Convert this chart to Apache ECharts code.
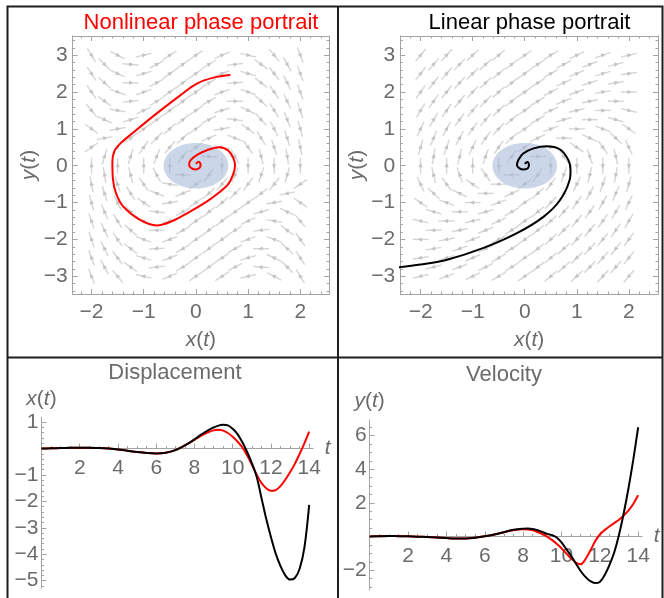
<!DOCTYPE html>
<html>
<head>
<meta charset="utf-8">
<script src="https://cdn.jsdelivr.net/npm/echarts@6/dist/echarts.min.js"></script>
<style>
html, body { margin: 0; padding: 0; background: #fff; }
#chart { width: 664px; height: 598px; }
</style>
</head>
<body>
<div id="chart"></div>
<script>
// time samples shared by both time plots
const tSteps = [0, 0.5, 1, 1.5, 2, 2.5, 3, 3.5, 4, 4.5, 5, 5.5, 6, 6.5, 7, 7.5, 8,
    8.25, 8.5, 8.75, 9, 9.25, 9.5, 9.75, 10, 10.25, 10.5, 10.75, 11, 11.25, 11.5, 11.75,
    12, 12.25, 12.5, 12.75, 13, 13.25, 13.5, 13.75, 14];
const xLinear = [0, 0.01, 0.02, 0.03, 0.035, 0.035, 0.02, 0, -0.03, -0.08, -0.13, -0.17, -0.19, -0.16, -0.06, 0.12, 0.35,
    0.48, 0.6, 0.71, 0.8, 0.87, 0.9, 0.88, 0.75, 0.55, 0.25, -0.12, -0.55, -1.06, -1.85, -2.65,
    -3.35, -3.98, -4.45, -4.8, -4.96, -4.9, -4.55, -3.75, -2.13];
const xNonlinear = [0, 0.01, 0.02, 0.03, 0.035, 0.035, 0.02, 0, -0.03, -0.08, -0.13, -0.17, -0.19, -0.16, -0.06, 0.12, 0.33,
    0.44, 0.55, 0.63, 0.69, 0.71, 0.68, 0.59, 0.45, 0.27, 0.05, -0.25, -0.6, -0.98, -1.3, -1.5,
    -1.6, -1.57, -1.42, -1.18, -0.9, -0.58, -0.2, 0.2, 0.64];
const yLinear = [0, 0.02, 0.03, 0.02, 0.01, -0.01, -0.03, -0.06, -0.09, -0.11, -0.11, -0.07, 0.01, 0.12, 0.26, 0.4, 0.47,
    0.48, 0.45, 0.38, 0.28, 0.16, 0.08, -0.06, -0.35, -0.75, -1.15, -1.6, -2.05, -2.4, -2.65, -2.77,
    -2.7, -2.3, -1.7, -0.95, 0.1, 1.4, 2.9, 4.6, 6.5];
const yNonlinear = [0, 0.02, 0.03, 0.02, 0.01, -0.01, -0.03, -0.06, -0.09, -0.11, -0.11, -0.07, 0.01, 0.12, 0.26, 0.38, 0.43,
    0.42, 0.37, 0.27, 0.15, 0, -0.2, -0.43, -0.7, -1.0, -1.3, -1.55, -1.65, -1.35, -0.85, -0.3,
    0.12, 0.38, 0.6, 0.8, 1.0, 1.25, 1.55, 1.95, 2.45];

// trajectories
const nlPhaseX = [0, 0.05, 0.09, 0.07, 0, -0.08, -0.13, -0.1, 0.03, 0.21, 0.45, 0.62, 0.72, 0.75, 0.71, 0.62, 0.45, 0.2,
    -0.17, -0.45, -0.75, -1.07, -1.39, -1.53, -1.59, -1.6, -1.56, -1.45, -1.2, -0.75, -0.3, 0.02, 0.34, 0.66];
const nlPhaseY = [0.05, 0.11, 0.04, -0.06, -0.1, -0.07, 0.02, 0.15, 0.3, 0.42, 0.5, 0.41, 0.2, 0, -0.25, -0.5, -0.72, -0.98,
    -1.29, -1.5, -1.62, -1.47, -1.11, -0.75, -0.35, 0.1, 0.4, 0.6, 0.9, 1.42, 1.91, 2.23, 2.39, 2.46];
const linPhaseX = [0, 0.05, 0.08, 0.06, -0.02, -0.1, -0.15, -0.12, -0.03, 0.17, 0.42, 0.68, 0.84, 0.88, 0.86,
    0.68, 0.365, -0.15, -0.79, -1.49, -2.0, -2.45];
const linPhaseY = [0.05, 0.1, 0.03, -0.07, -0.1, -0.07, 0.02, 0.16, 0.33, 0.47, 0.53, 0.44, 0.15, -0.12, -0.4,
    -0.93, -1.38, -1.83, -2.23, -2.55, -2.68, -2.76];

// stream field: arrow direction on screen (degrees, 0 = right, 90 = up) on two staggered grids
const fieldCols = [-2, -1.5, -1, -0.5, 0, 0.5, 1, 1.5, 2];
const fieldRows = [3, 2.5, 2, 1.5, 1, 0.5, 0, -0.5, -1, -1.5, -2, -2.5, -3];
const fieldColsB = [-1.75, -1.25, -0.75, -0.25, 0.25, 0.75, 1.25, 1.75];
const fieldRowsB = [2.75, 2.25, 1.75, 1.25, 0.75, 0.25, -0.25, -0.75, -1.25, -1.75, -2.25, -2.75];
const nlFieldAngles = [
    [-59, -28, 13, 33, 35, 23, -13, -51, -69],
    [-57, -25, 16, 34, 35, 21, -16, -53, -70],
    [-55, -20, 20, 35, 35, 20, -20, -55, -71],
    [-50, -10, 25, 38, 35, 17, -25, -58, -72],
    [-35, 10, 35, 42, 35, 10, -35, -63, -74],
    [35, 51, 55, 51, 35, -10, -55, -72, -79],
    [90, 90, 90, 90, null, -90, -90, -90, -90],
    [101, 108, 125, 170, 215, 231, 235, 231, 215],
    [106, 117, 145, 190, 215, 222, 215, 190, 145],
    [108, 122, 155, 197, 215, 218, 205, 170, 130],
    [109, 125, 160, 200, 215, 215, 200, 160, 125],
    [110, 127, 164, 201, 215, 214, 196, 155, 123],
    [111, 129, 167, 203, 215, 213, 193, 152, 121]
];
const nlFieldAnglesB = [
    [-45, -4, 27, 36, 31, 7, -36, -62],
    [-42, 0, 29, 37, 30, 4, -38, -64],
    [-37, 6, 32, 38, 29, 0, -42, -65],
    [-25, 17, 36, 39, 28, -7, -48, -68],
    [11, 38, 46, 42, 23, -22, -58, -72],
    [74, 72, 68, 54, -3, -61, -76, -81],
    [99, 104, 119, 177, 234, 248, 252, 254],
    [108, 122, 158, 203, 222, 226, 218, 191],
    [112, 132, 173, 208, 219, 216, 197, 155],
    [115, 138, 180, 209, 218, 212, 186, 143],
    [116, 142, 184, 210, 217, 209, 180, 138],
    [118, 144, 187, 211, 216, 207, 176, 135]
];
const linFieldAngles = [
    [50, 47, 43, 40, 35, 31, 25, 20, 13],
    [52, 49, 45, 40, 35, 30, 23, 16, 8],
    [55, 51, 47, 42, 35, 28, 20, 10, 0],
    [59, 55, 50, 43, 35, 25, 13, 0, -13],
    [65, 61, 55, 47, 35, 20, 0, -20, -35],
    [74, 71, 65, 55, 35, 0, -35, -55, -65],
    [90, 90, 90, 90, null, -90, -90, -90, -90],
    [115, 125, 145, 180, 215, 235, 245, 251, 254],
    [145, 160, 180, 200, 215, 227, 235, 241, 245],
    [167, 180, 193, 205, 215, 223, 230, 235, 239],
    [180, 190, 200, 208, 215, 222, 227, 231, 235],
    [188, 196, 203, 210, 215, 220, 225, 229, 232],
    [193, 200, 205, 211, 215, 220, 223, 227, 230]
];
const linFieldAnglesB = [
    [49, 46, 42, 38, 33, 27, 21, 14],
    [52, 48, 43, 38, 32, 25, 18, 9],
    [55, 51, 45, 39, 31, 22, 11, 0],
    [60, 55, 49, 40, 30, 16, 0, -16],
    [67, 62, 55, 43, 25, 0, -25, -43],
    [80, 77, 71, 55, 0, -55, -71, -77],
    [103, 109, 125, 180, 235, 251, 257, 260],
    [137, 155, 180, 205, 223, 235, 242, 247],
    [164, 180, 196, 210, 220, 229, 235, 240],
    [180, 191, 202, 211, 219, 225, 231, 235],
    [189, 198, 205, 212, 218, 223, 228, 232],
    [194, 201, 207, 213, 218, 222, 226, 229]
];
const diskRadius = 0.62;

// tick labels
const phaseXTicks = [-2, -1, 0, 1, 2];
const phaseYTicks = [-3, -2, -1, 0, 1, 2, 3];
const dispXTicks = [2, 4, 6, 8, 10, 12, 14];
const dispYTicks = [-5, -4, -3, -2, -1, 1];
const velYTicks = [-2, 2, 4, 6];

const FONT = "'Liberation Sans', Arial, sans-serif";
const AXIS_GRAY = '#a3a3a3';
const LABEL_GRAY = '#6b6b6b';
const BORDER = '#1e1e1e';

function steps(from, to, step) {
    const out = [];
    for (let v = from; v <= to + 1e-9; v += step) out.push(+v.toFixed(3));
    return out;
}
const minus = v => String(v).replace('-', '\u2212');

function nameStyle() {
    return {
        color: LABEL_GRAY, fontSize: 21, fontFamily: FONT,
        rich: { i: { fontStyle: 'italic', fontSize: 21, color: LABEL_GRAY, fontFamily: FONT } }
    };
}

const xAxes = [], yAxes = [];

// pushes a major axis (line, ticks, labels) and a minor-tick twin, returns the major's index
function addAxis(list, o) {
    const tickStyle = { color: AXIS_GRAY, width: 1 };
    const major = {
        type: 'value', gridIndex: o.grid, position: o.pos, offset: o.offset || 0, min: o.min, max: o.max,
        splitLine: { show: false },
        axisLine: { show: true, onZero: false, lineStyle: { color: AXIS_GRAY, width: 1 } },
        axisTick: { show: true, inside: true, length: 5, customValues: o.ticks, lineStyle: tickStyle },
        axisLabel: o.labels
            ? { show: true, customValues: o.ticks, formatter: minus, color: LABEL_GRAY, fontSize: 21, fontFamily: FONT, margin: o.margin, hideOverlap: false }
            : { show: false }
    };
    if (o.name) Object.assign(major, o.name);
    const minor = {
        type: 'value', gridIndex: o.grid, position: o.pos, offset: o.offset || 0, min: o.min, max: o.max,
        splitLine: { show: false },
        axisLine: { show: false, onZero: false },
        axisTick: { show: true, inside: true, length: 2.5, customValues: o.minors, lineStyle: tickStyle },
        axisLabel: { show: false }
    };
    list.push(major, minor);
    return list.length - 2;
}

const grids = [
    { left: 72.7, top: 36, width: 256.3, height: 258 },
    { left: 400.3, top: 36, width: 257.7, height: 258 },
    { left: 41.5, top: 417.7, width: 271.5, height: 170.3 },
    { left: 369.7, top: 420, width: 272.3, height: 170 }
].map(g => Object.assign({ containLabel: false, outerBoundsMode: 'none' }, g));

// framed phase panels
const phaseRanges = [[-2.36, 2.55], [-2.39, 2.56]];
const phaseAxes = phaseRanges.map((xr, g) => {
    const xMinor = steps(-2.2, 2.4, 0.2), yMinor = steps(-3.4, 3.4, 0.2);
    const xi = addAxis(xAxes, {
        grid: g, pos: 'bottom', min: xr[0], max: xr[1], ticks: phaseXTicks, minors: xMinor, labels: true, margin: 8,
        name: { name: '{i|x}({i|t})', nameLocation: 'middle', nameGap: 36, nameTextStyle: nameStyle() }
    });
    addAxis(xAxes, { grid: g, pos: 'top', min: xr[0], max: xr[1], ticks: phaseXTicks, minors: xMinor });
    const yi = addAxis(yAxes, {
        grid: g, pos: 'left', min: -3.48, max: 3.52, ticks: phaseYTicks, minors: yMinor, labels: true, margin: 5,
        name: { name: '{i|y}({i|t})', nameLocation: 'middle', nameRotate: 90, nameGap: 33, nameTextStyle: nameStyle() }
    });
    addAxis(yAxes, { grid: g, pos: 'right', min: -3.48, max: 3.52, ticks: phaseYTicks, minors: yMinor });
    return { xi, yi };
});

// time panels: the t axis is lifted from the grid bottom to the y = 0 level
const timeSpecs = [
    { grid: 2, yMin: -5.28, yMax: 1.17, yTicks: dispYTicks, yMinor: steps(-5.2, 1.0, 0.2), name: '{i|x}({i|t})' },
    { grid: 3, yMin: -3.18, yMax: 6.93, yTicks: velYTicks, yMinor: steps(-3, 6.5, 0.5), name: '{i|y}({i|t})' }
];
const timeAxes = timeSpecs.map(s => {
    const h = grids[s.grid].height;
    const lift = h * (0 - s.yMin) / (s.yMax - s.yMin);
    const yi = addAxis(yAxes, {
        grid: s.grid, pos: 'left', min: s.yMin, max: s.yMax, ticks: s.yTicks, minors: s.yMinor, labels: true, margin: 3,
        name: { name: s.name, nameLocation: 'end', nameGap: 8, nameTextStyle: nameStyle() }
    });
    const xi = addAxis(xAxes, {
        grid: s.grid, pos: 'bottom', offset: -lift, min: 0, max: 14.2, ticks: dispXTicks, minors: steps(0.5, 14, 0.5), labels: true, margin: 9,
        name: { name: '{i|t}', nameLocation: 'end', nameGap: 8, nameTextStyle: nameStyle() }
    });
    return { xi, yi };
});

function fieldData(rows, cols, angles) {
    const out = [];
    rows.forEach((y, r) => cols.forEach((x, c) => {
        if (angles[r][c] !== null) out.push([x, y, angles[r][c]]);
    }));
    return out;
}

function renderArrow(params, api) {
    const p = api.coord([api.value(0), api.value(1)]);
    const a = api.value(2) * Math.PI / 180;
    const dx = Math.cos(a), dy = -Math.sin(a);
    const L = 8, h = 4.5, w = 2.2;
    const x1 = p[0] - dx * L, y1 = p[1] - dy * L;
    const x2 = p[0] + dx * L, y2 = p[1] + dy * L;
    const hx = p[0] + dx * 3, hy = p[1] + dy * 3;
    const bx = hx - dx * h, by = hy - dy * h;
    return {
        type: 'group',
        children: [
            { type: 'line', shape: { x1, y1, x2, y2 }, style: { stroke: '#d6d6d6', lineWidth: 1.4 } },
            { type: 'polygon', shape: { points: [[hx, hy], [bx - dy * w, by + dx * w], [bx + dy * w, by - dx * w]] }, style: { fill: '#c4c4c4' } }
        ]
    };
}

function renderDisk(params, api) {
    const c = api.coord([api.value(0), api.value(1)]);
    const s = api.size([diskRadius, diskRadius]);
    const pts = [];
    for (let k = 0; k < 60; k++) {
        const th = k / 60 * Math.PI * 2;
        pts.push([c[0] + s[0] * Math.cos(th), c[1] + s[1] * Math.sin(th)]);
    }
    return { type: 'polygon', shape: { points: pts }, style: { fill: 'rgba(170,187,218,0.6)' } };
}

const pairs = (xs, ys) => xs.map((x, i) => [x, ys[i]]);

function lineSeries(axes, data, color) {
    return {
        type: 'line', xAxisIndex: axes.xi, yAxisIndex: axes.yi, data,
        smooth: 0.35, showSymbol: false, symbol: 'none', clip: true,
        lineStyle: { color, width: 2 }, silent: true
    };
}

const series = [];
[[nlFieldAngles, nlFieldAnglesB], [linFieldAngles, linFieldAnglesB]].forEach((field, g) => {
    const data = fieldData(fieldRows, fieldCols, field[0]).concat(fieldData(fieldRowsB, fieldColsB, field[1]));
    series.push({
        type: 'custom', xAxisIndex: phaseAxes[g].xi, yAxisIndex: phaseAxes[g].yi,
        data, renderItem: renderArrow, clip: true, silent: true
    });
    series.push({
        type: 'custom', xAxisIndex: phaseAxes[g].xi, yAxisIndex: phaseAxes[g].yi,
        data: [[0, 0]], renderItem: renderDisk, silent: true
    });
});
series.push(lineSeries(phaseAxes[0], pairs(nlPhaseX, nlPhaseY), '#ff0000'));
series.push(lineSeries(phaseAxes[1], pairs(linPhaseX, linPhaseY), '#000000'));
series.push(lineSeries(timeAxes[0], pairs(tSteps, xNonlinear), '#ff0000'));
series.push(lineSeries(timeAxes[0], pairs(tSteps, xLinear), '#000000'));
series.push(lineSeries(timeAxes[1], pairs(tSteps, yNonlinear), '#ff0000'));
series.push(lineSeries(timeAxes[1], pairs(tSteps, yLinear), '#000000'));

function title(text, x, y, color) {
    return {
        type: 'text', x, y, silent: true,
        style: { text, fill: color, font: '22px ' + FONT, align: 'center', verticalAlign: 'middle', textAlign: 'center', textVerticalAlign: 'middle' }
    };
}

const chart = echarts.init(document.getElementById('chart'));
chart.setOption({
    animation: false,
    grid: grids,
    xAxis: xAxes,
    yAxis: yAxes,
    series,
    graphic: [
        { type: 'rect', silent: true, shape: { x: 7.5, y: 6.5, width: 655, height: 640 }, style: { fill: 'none', stroke: BORDER, lineWidth: 2 } },
        { type: 'line', silent: true, shape: { x1: 338, y1: 6.5, x2: 338, y2: 640 }, style: { stroke: BORDER, lineWidth: 2 } },
        { type: 'line', silent: true, shape: { x1: 7.5, y1: 357.5, x2: 662.5, y2: 357.5 }, style: { stroke: BORDER, lineWidth: 2 } },
        title('Nonlinear phase portrait', 201, 23, '#ff0000'),
        title('Linear phase portrait', 529.5, 23, '#000000'),
        title('Displacement', 175, 373, LABEL_GRAY),
        title('Velocity', 504, 375, LABEL_GRAY)
    ]
});
</script>
</body>
</html>
